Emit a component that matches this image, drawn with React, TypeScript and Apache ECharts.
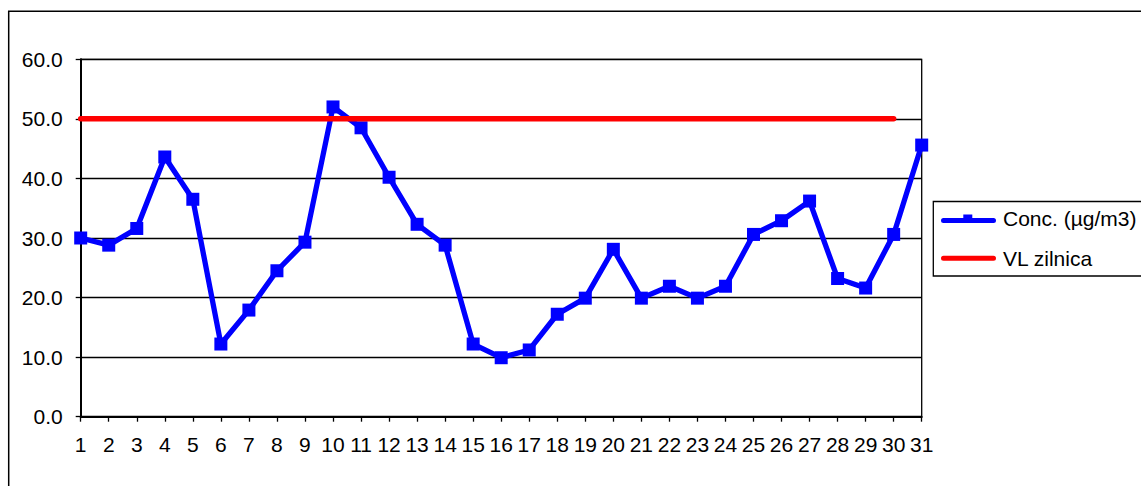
import React, { useEffect, useRef } from "react";
import * as echarts from "echarts";

const days = [
  "1", "2", "3", "4", "5", "6", "7", "8", "9", "10", "11", "12", "13", "14", "15", "16",
  "17", "18", "19", "20", "21", "22", "23", "24", "25", "26", "27", "28", "29", "30", "31",
];
const concValues = [
  30.0, 28.8, 31.6, 43.6, 36.5, 12.2, 17.9, 24.5, 29.3, 52.0, 48.5, 40.2, 32.3, 28.8, 12.2, 9.9,
  11.2, 17.2, 19.9, 28.1, 19.9, 21.9, 19.9, 21.9, 30.6, 32.9, 36.2, 23.2, 21.6, 30.6, 45.6,
];
const limitValues = [
  50, 50, 50, 50, 50, 50, 50, 50, 50, 50, 50, 50, 50, 50, 50, 50,
  50, 50, 50, 50, 50, 50, 50, 50, 50, 50, 50, 50, 50, 50, null,
];
const seriesNames = ["Conc. (\u00b5g/m3)", "VL zilnica"];
const yMin = 0;
const yMax = 60;
const yStep = 10;

const FONT = "'Liberation Sans', Arial, sans-serif";

const ICON_BAR =
  "path://M2.5,0 L52.5,0 A2.5,2.5 0 0 1 52.5,5 L2.5,5 A2.5,2.5 0 0 1 2.5,0 Z";
const ICON_BAR_MARK =
  "path://M2.5,3.5 L22.3,3.5 L22.3,0 L31.3,0 L31.3,3.5 L52.5,3.5 A2.5,2.5 0 0 1 52.5,8.5 L2.5,8.5 A2.5,2.5 0 0 1 2.5,3.5 Z";

export default function App() {
  const ref = useRef<HTMLDivElement>(null);
  useEffect(() => {
    if (!ref.current) return;
    const chart = echarts.init(ref.current, null, { renderer: "svg" });
    chart.setOption({
      animation: false,
      backgroundColor: "#ffffff",
      textStyle: { fontFamily: FONT },
      graphic: [
        {
          type: "rect",
          shape: { x: 8.7, y: 11.3, width: 2000, height: 1000 },
          style: { fill: "none", stroke: "#000", lineWidth: 1.5 },
          silent: true,
        },
      ],
      grid: {
        left: 80.7,
        right: 219.3,
        top: 59.3,
        bottom: 69.3,
        show: true,
        borderColor: "#000",
        borderWidth: 1.3,
        backgroundColor: "transparent",
      },
      legend: {
        left: 933.3,
        top: 201.5,
        orient: "vertical",
        data: [
          { name: seriesNames[0], icon: ICON_BAR_MARK },
          { name: seriesNames[1], icon: ICON_BAR },
        ],
        itemWidth: 55,
        itemHeight: 9,
        itemGap: 18.4,
        symbolKeepAspect: true,
        padding: [6.8, 20, 7.3, 7.7],
        borderColor: "#000",
        borderWidth: 1.3,
        itemStyle: { borderWidth: 0 },
        textStyle: { fontFamily: FONT, fontSize: 21, color: "#000", lineHeight: 20, padding: [0, 0, 0, 2] },
      },
      xAxis: {
        type: "category",
        data: days,
        boundaryGap: false,
        axisLine: { show: true, lineStyle: { color: "#000", width: 2 } },
        axisTick: { show: true, alignWithLabel: true, length: 5, lineStyle: { color: "#000", width: 1.3 } },
        axisLabel: { interval: 0, margin: 17, fontFamily: FONT, fontSize: 21, color: "#000" },
        splitLine: { show: false },
      },
      yAxis: {
        type: "value",
        min: yMin,
        max: yMax,
        interval: yStep,
        axisLine: { show: true, lineStyle: { color: "#000", width: 2 } },
        axisTick: { show: true, length: 5, lineStyle: { color: "#000", width: 1.3 } },
        axisLabel: {
          margin: 18,
          fontFamily: FONT,
          fontSize: 21,
          color: "#000",
          formatter: (v: number) => v.toFixed(1),
        },
        splitLine: { show: true, lineStyle: { color: "#000", width: 1.3 } },
      },
      series: [
        {
          name: seriesNames[0],
          type: "line",
          data: concValues,
          symbol: "rect",
          symbolSize: 13,
          itemStyle: { color: "#0000ff" },
          lineStyle: { color: "#0000ff", width: 5.3, join: "round" },
          z: 2,
        },
        {
          name: seriesNames[1],
          type: "line",
          data: limitValues,
          showSymbol: false,
          symbol: "none",
          itemStyle: { color: "#ff0000" },
          lineStyle: { color: "#ff0000", width: 5.5, cap: "round" },
          z: 3,
        },
      ],
    });
    return () => chart.dispose();
  }, []);
  return (
    <div
      ref={ref}
      style={{ position: "fixed", left: 0, top: 0, width: 1141, height: 486 }}
    />
  );
}
